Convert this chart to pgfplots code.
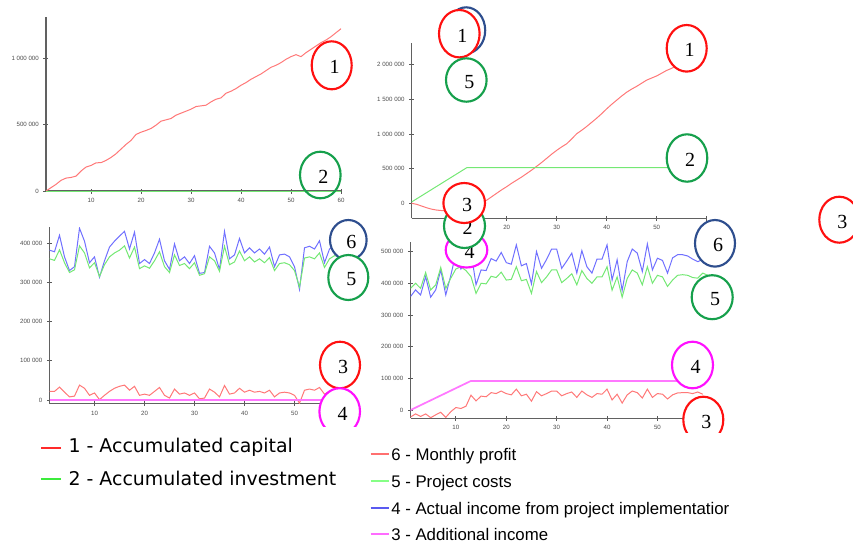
\documentclass[border=0pt]{standalone}
\usepackage{fontspec}
\setmainfont{Liberation Sans}
\newfontfamily\dejavu{DejaVu Sans}
\newfontfamily\serifnum{Liberation Serif}
\usepackage{pgfplots}
\pgfplotsset{compat=1.18}

\definecolor{lred}{HTML}{FF7878}
\definecolor{lgreen}{HTML}{74E874}
\definecolor{lblue}{HTML}{7070FF}
\definecolor{lmag}{HTML}{FF78FF}
\definecolor{cred}{HTML}{FF1010}
\definecolor{cgreen}{HTML}{16A04C}
\definecolor{cblue}{HTML}{2E4E8E}
\definecolor{cmag}{HTML}{FF10FF}
\definecolor{gred}{HTML}{FF2A2A}
\definecolor{ggreen}{HTML}{3CEB3C}
\definecolor{gsalmon}{HTML}{FF7070}
\definecolor{glgreen}{HTML}{86FF86}
\definecolor{gblue}{HTML}{5A5AF0}
\definecolor{gmag}{HTML}{FF6CFF}

\pgfplotsset{panel/.style={
  scale only axis, axis lines=left,
  axis line style={-, draw=black!62, line width=0.8pt},
  xmin=1, xmax=60, xtick={10,20,30,40,50,60},
  tick align=center, major tick length=3.75pt,
  tick style={black!65, line width=0.6pt},
  ticklabel style={font=\fontsize{4.6}{5}\selectfont, text=black!70},
  /pgf/number format/assume math mode=true,
  scaled y ticks=false,
  every axis plot/.append style={line width=0.75pt, mark=none},
}}

\newcommand{\fcirc}[6]{% color, x, y, rx(px), ry(px), label
  \draw[#1, line width=1.6pt, fill=white] (#2,#3) ellipse [x radius=#4*0.75pt, y radius=#5*0.75pt];
  \node[inner sep=0pt, anchor=center] at ({#2+3},{#3+2}) {\serifnum\fontsize{15}{15}\selectfont #6};}
\newcommand{\ocirc}[6]{%
  \draw[#1, line width=1.6pt] (#2,#3) ellipse [x radius=#4*0.75pt, y radius=#5*0.75pt];
  \node[inner sep=0pt, anchor=center] at ({#2+3},{#3+2}) {\serifnum\fontsize{15}{15}\selectfont #6};}

\begin{document}
\begin{tikzpicture}[x=0.75pt,y=-0.75pt]
% ---------- Panel 1 ----------
\begin{axis}[panel, at={(34.5pt,-143.25pt)}, anchor=south west,
  width=221.25pt, height=130.5pt, ymin=0, ymax=1308000,
  ytick={0,500000,1000000}, yticklabels={0,500 000,1 000 000}]
\addplot[lred] coordinates {(1,0)(2,25e3)(3,50e3)(4,80e3)(5,97e3)(6,102e3)(7,112e3)(8,150e3)(9,180e3)(10,192e3)
(11,212e3)(12,213e3)(13,230e3)(14,252e3)(15,280e3)(16,315e3)(17,350e3)(18,380e3)(19,425e3)(20,442e3)
(21,455e3)(22,470e3)(23,495e3)(24,525e3)(25,535e3)(26,545e3)(27,570e3)(28,585e3)(29,600e3)(30,615e3)
(31,635e3)(32,640e3)(33,645e3)(34,670e3)(35,690e3)(36,700e3)(37,735e3)(38,750e3)(39,770e3)(40,795e3)
(41,815e3)(42,840e3)(43,860e3)(44,880e3)(45,905e3)(46,930e3)(47,945e3)(48,965e3)(49,990e3)(50,1010e3)
(51,1025e3)(52,1010e3)(53,1040e3)(54,1065e3)(55,1090e3)(56,1115e3)(57,1135e3)(58,1160e3)(59,1190e3)(60,1220e3)};
\addplot[lgreen] coordinates {(1,0)(60,0)};
\end{axis}
% ---------- Panel 2 ----------
\begin{axis}[panel, at={(308.78pt,-163.73pt)}, anchor=south west,
  width=221.25pt, height=131.5pt, ymin=-217000, ymax=2316000,
  ytick={0,500000,1000000,1500000,2000000},
  yticklabels={0,500 000,1 000 000,1 500 000,2 000 000}]
\addplot[lred] coordinates {(1,0)(2,-15e3)(3,-40e3)(4,-65e3)(5,-85e3)(6,-98e3)(7,-105e3)(8,-110e3)(9,-112e3)(10,-115e3)
(11,-120e3)(12,-115e3)(13,-90e3)(14,-45e3)(15,0)(16,45e3)(17,95e3)(18,145e3)(19,195e3)(20,240e3)
(21,290e3)(22,335e3)(23,380e3)(24,430e3)(25,480e3)(26,535e3)(27,590e3)(28,650e3)(29,710e3)(30,765e3)
(31,815e3)(32,860e3)(33,930e3)(34,1005e3)(35,1055e3)(36,1110e3)(37,1170e3)(38,1230e3)(39,1295e3)(40,1365e3)
(41,1430e3)(42,1490e3)(43,1550e3)(44,1605e3)(45,1650e3)(46,1690e3)(47,1735e3)(48,1780e3)(49,1810e3)(50,1840e3)
(51,1880e3)(52,1920e3)(53,1950e3)(54,1990e3)(55,2030e3)(56,2070e3)(57,2110e3)(58,2160e3)(59,2210e3)(60,2260e3)};
\addplot[lgreen] coordinates {(1,20e3)(12,514e3)(60,514e3)};
\end{axis}
% ---------- Panel 3 ----------
\begin{axis}[panel, at={(37.13pt,-302.78pt)}, anchor=south west,
  width=221.25pt, height=132.5pt, ymin=-9400, ymax=441000,
  ytick={0,100000,200000,300000,400000},
  yticklabels={0,100 000,200 000,300 000,400 000}]
\addplot[lblue] coordinates {(1,382e3)(2,378e3)(3,420e3)(4,365e3)(5,330e3)(6,340e3)(7,438e3)(8,405e3)(9,350e3)(10,365e3)
(11,313e3)(12,355e3)(13,390e3)(14,405e3)(15,418e3)(16,430e3)(17,385e3)(18,428e3)(19,348e3)(20,358e3)
(21,348e3)(22,375e3)(23,410e3)(24,355e3)(25,333e3)(26,398e3)(27,355e3)(28,365e3)(29,348e3)(30,368e3)
(31,323e3)(32,325e3)(33,392e3)(34,375e3)(35,333e3)(36,430e3)(37,360e3)(38,370e3)(39,412e3)(40,375e3)
(41,388e3)(42,375e3)(43,385e3)(44,372e3)(45,390e3)(46,340e3)(47,370e3)(48,372e3)(49,365e3)(50,340e3)
(51,282e3)(52,388e3)(53,392e3)(54,385e3)(55,406e3)(56,350e3)(57,385e3)(58,395e3)(59,390e3)};
\addplot[lgreen] coordinates {(1,360e3)(2,356e3)(3,383e3)(4,350e3)(5,325e3)(6,332e3)(7,393e3)(8,375e3)(9,337e3)(10,350e3)
(11,315e3)(12,345e3)(13,365e3)(14,375e3)(15,382e3)(16,393e3)(17,362e3)(18,390e3)(19,335e3)(20,342e3)
(21,336e3)(22,355e3)(23,378e3)(24,340e3)(25,325e3)(26,370e3)(27,343e3)(28,348e3)(29,335e3)(30,350e3)
(31,318e3)(32,322e3)(33,365e3)(34,355e3)(35,328e3)(36,392e3)(37,345e3)(38,352e3)(39,380e3)(40,355e3)
(41,365e3)(42,352e3)(43,360e3)(44,350e3)(45,363e3)(46,330e3)(47,348e3)(48,350e3)(49,345e3)(50,330e3)
(51,288e3)(52,362e3)(53,365e3)(54,360e3)(55,375e3)(56,338e3)(57,360e3)(58,368e3)(59,365e3)};
\addplot[lred] coordinates {(1,22e3)(2,22e3)(3,33e3)(4,20e3)(5,8e3)(6,10e3)(7,38e3)(8,30e3)(9,12e3)(10,18e3)
(11,1e3)(12,12e3)(13,22e3)(14,30e3)(15,35e3)(16,38e3)(17,25e3)(18,35e3)(19,12e3)(20,15e3)
(21,12e3)(22,22e3)(23,32e3)(24,12e3)(25,5e3)(26,28e3)(27,15e3)(28,18e3)(29,12e3)(30,18e3)
(31,3e3)(32,5e3)(33,28e3)(34,20e3)(35,8e3)(36,37e3)(37,15e3)(38,18e3)(39,30e3)(40,20e3)
(41,25e3)(42,20e3)(43,22e3)(44,18e3)(45,25e3)(46,8e3)(47,18e3)(48,20e3)(49,18e3)(50,12e3)
(51,-8e3)(52,25e3)(53,28e3)(54,25e3)(55,32e3)(56,15e3)(57,22e3)(58,25e3)(59,20e3)};
\addplot[lmag, line width=1pt] coordinates {(1,0)(59,0)};
\end{axis}
% ---------- Panel 4 ----------
\begin{axis}[panel, at={(307.88pt,-313.73pt)}, anchor=south west,
  width=223pt, height=132.45pt, ymin=-26000, ymax=531000,
  ytick={0,100000,200000,300000,400000,500000},
  yticklabels={0,100 000,200 000,300 000,400 000,500 000}]
\addplot[lblue] coordinates {(1,358e3)(2,379e3)(3,363e3)(4,421e3)(5,356e3)(6,379e3)(7,442e3)(8,363e3)(9,425e3)(10,494e3)
(11,445e3)(12,470e3)(13,500e3)(14,395e3)(15,442e3)(16,440e3)(17,478e3)(18,470e3)(19,497e3)(20,465e3)
(21,460e3)(22,521e3)(23,455e3)(24,462e3)(25,398e3)(26,500e3)(27,447e3)(28,475e3)(29,508e3)(30,508e3)
(31,447e3)(32,470e3)(33,495e3)(34,432e3)(35,503e3)(36,452e3)(37,432e3)(38,476e3)(39,476e3)(40,521e3)
(41,410e3)(42,474e3)(43,377e3)(44,468e3)(45,508e3)(46,495e3)(47,437e3)(48,524e3)(49,442e3)(50,479e3)
(51,472e3)(52,432e3)(53,480e3)(54,490e3)(55,490e3)(56,486e3)(57,476e3)(58,468e3)(59,475e3)(60,472e3)};
\addplot[lgreen] coordinates {(1,384e3)(2,400e3)(3,384e3)(4,434e3)(5,379e3)(6,395e3)(7,450e3)(8,384e3)(9,416e3)(10,445e3)
(11,452e3)(12,440e3)(13,421e3)(14,368e3)(15,400e3)(16,398e3)(17,422e3)(18,418e3)(19,435e3)(20,410e3)
(21,412e3)(22,452e3)(23,408e3)(24,412e3)(25,368e3)(26,437e3)(27,402e3)(28,420e3)(29,442e3)(30,442e3)
(31,402e3)(32,415e3)(33,430e3)(34,395e3)(35,440e3)(36,415e3)(37,400e3)(38,420e3)(39,420e3)(40,452e3)
(41,378e3)(42,420e3)(43,356e3)(44,415e3)(45,442e3)(46,432e3)(47,395e3)(48,452e3)(49,400e3)(50,425e3)
(51,420e3)(52,390e3)(53,410e3)(54,425e3)(55,427e3)(56,425e3)(57,418e3)(58,416e3)(59,432e3)(60,425e3)};
\addplot[lred] coordinates {(1,-22e3)(2,-12e3)(3,-20e3)(4,-12e3)(5,-24e3)(6,-15e3)(7,-7e3)(8,-23e3)(9,-5e3)(10,8e3)
(11,5e3)(12,12e3)(13,47e3)(14,29e3)(15,44e3)(16,42e3)(17,55e3)(18,52e3)(19,60e3)(20,52e3)
(21,48e3)(22,66e3)(23,45e3)(24,50e3)(25,28e3)(26,58e3)(27,45e3)(28,52e3)(29,60e3)(30,60e3)
(31,45e3)(32,52e3)(33,57e3)(34,40e3)(35,60e3)(36,48e3)(37,40e3)(38,52e3)(39,50e3)(40,66e3)
(41,32e3)(42,50e3)(43,22e3)(44,48e3)(45,60e3)(46,55e3)(47,38e3)(48,66e3)(49,40e3)(50,52e3)
(51,50e3)(52,35e3)(53,48e3)(54,54e3)(55,55e3)(56,55e3)(57,52e3)(58,57e3)(59,50e3)};
\addplot[lmag, line width=1.3pt] coordinates {(1,0)(13,92e3)(59,92e3)};
\end{axis}
% ---------- circles ----------
\ocirc{cred}{331.7}{65.3}{20}{24}{1}
\ocirc{cgreen}{320.3}{175}{20.3}{23.3}{2}
\fcirc{cblue}{466.2}{30.3}{19}{23}{}
\fcirc{cred}{459.3}{33.7}{20.3}{23.7}{1}
\fcirc{cgreen}{466.3}{80}{20.3}{21.7}{5}
\fcirc{cred}{686.7}{48.3}{20}{23.3}{1}
\fcirc{cgreen}{687}{158}{20.3}{23.7}{2}
\fcirc{cmag}{466.5}{250}{20.8}{17.5}{4}
\fcirc{cgreen}{464.5}{226}{20.5}{22}{2}
\fcirc{cred}{464.2}{203}{20.8}{20}{3}
\fcirc{cred}{839.3}{219.7}{20}{23}{3}
\fcirc{cblue}{348.3}{240}{18.3}{20}{6}
\fcirc{cgreen}{348.3}{277.5}{20}{22.5}{5}
\fcirc{cred}{340}{365}{20}{23.3}{3}
\begin{scope}
\clip (300,380) rectangle (400,426);
\fcirc{cmag}{339.7}{411.5}{20.3}{23.3}{4}
\end{scope}
\fcirc{cblue}{715}{243.3}{20}{23.3}{6}
\fcirc{cgreen}{712.2}{297.2}{20.5}{22}{5}
\fcirc{cmag}{692.5}{365}{20.5}{23.3}{4}
\begin{scope}
\clip (670,390) rectangle (740,432);
\fcirc{cred}{703.3}{419.7}{20}{23}{3}
\end{scope}
% ---------- legends ----------
\draw[gred, line width=1.5pt] (41,447.7) -- (61,447.7);
\node[anchor=base west, inner sep=0pt] at (68.3,452.7) {\dejavu\fontsize{14.2}{15}\selectfont 1 -\ Accumulated capital};
\draw[ggreen, line width=1.5pt] (41,479.3) -- (61,479.3);
\node[anchor=base west, inner sep=0pt] at (68.3,485) {\dejavu\fontsize{14.2}{15}\selectfont 2 -\ Accumulated investment};
\draw[gsalmon, line width=1.5pt] (370.7,454.3) -- (389.3,454.3);
\node[anchor=base west, inner sep=0pt] at (391,460) {\fontsize{12.6}{13}\selectfont 6 - Monthly profit};
\draw[glgreen, line width=1.5pt] (370.7,481) -- (389.3,481);
\node[anchor=base west, inner sep=0pt] at (391,487.3) {\fontsize{12.6}{13}\selectfont 5 - Project costs};
\draw[gblue, line width=1.5pt] (370.7,507.7) -- (389.3,507.7);
\node[anchor=base west, inner sep=0pt] at (391,514.3) {\fontsize{12.6}{13}\selectfont 4 - Actual income from project implementatior};
\draw[gmag, line width=1.5pt] (370.7,534.3) -- (389.3,534.3);
\node[anchor=base west, inner sep=0pt] at (391,540) {\fontsize{12.6}{13}\selectfont 3 - Additional income};
\pgfresetboundingbox
\path (0,0) rectangle (853,547);
\end{tikzpicture}
\end{document}
